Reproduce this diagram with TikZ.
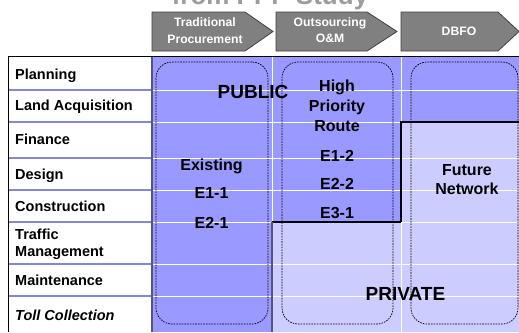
\documentclass[tikz,border=0pt]{standalone}
\usepackage{fontspec}
\setmainfont{Liberation Sans}
\definecolor{publicblue}{HTML}{9999FF}
\definecolor{privateblue}{HTML}{CCCCFF}
\definecolor{rowline}{HTML}{8585DD}
\definecolor{chevgray}{HTML}{808080}
\definecolor{titlegray}{HTML}{9C9C9C}
\definecolor{edgegray}{HTML}{55557A}

\begin{document}
\begin{tikzpicture}[x=1pt,y=-1pt,
  rowlabel/.style={anchor=base west, inner sep=0pt, font=\fontsize{14.5}{17}\selectfont\bfseries},
  celltext/.style={anchor=base, inner sep=0pt, font=\fontsize{16}{19}\selectfont\bfseries},
  sectortext/.style={anchor=base, inner sep=0pt, font=\fontsize{19}{22}\selectfont\bfseries},
  chevtext/.style={anchor=base, inner sep=0pt, text=white, font=\fontsize{12.2}{14}\selectfont\bfseries},
  chevron/.style={fill=chevgray, draw=black!75, line width=0.8pt},
  group/.style={draw=black, dash pattern=on 1.6pt off 1.1pt, line width=0.7pt,
                rounded corners=16pt, inner sep=0pt},
]
\useasboundingbox (0,0) rectangle (519,332);
\clip (0,0) rectangle (519,332);
\fill[white] (0,0) rectangle (519,332);

% title line, mostly above the page
\node[anchor=base, inner sep=0pt, text=titlegray,
      font=\fontsize{26}{30}\selectfont\bfseries] (title) at (270,4.5) {from PPP Study};

% procurement models
\draw[chevron] (152,12) -- (245,12) -- (273,31.5) -- (245,51) -- (152,51) -- cycle;
\draw[chevron] (276,12) -- (367,12) -- (397,31.5) -- (367,51) -- (276,51) -- cycle;
\draw[chevron] (401,12) -- (498,12) -- (519,31.5) -- (498,51) -- (401,51) -- cycle;
\node[chevtext] (trad1) at (205,26.7) {Traditional};
\node[chevtext] (trad2) at (205,43.3) {Procurement};
\node[chevtext] (outs1) at (330,26.7) {Outsourcing};
\node[chevtext] (outs2) at (330,42.3) {O\&M};
\node[chevtext] (dbfo)  at (459,35.7) {DBFO};

% public and private responsibility areas
\fill[publicblue] (152,56) rectangle (519,332);
\fill[privateblue] (272,222) -- (401,222) -- (401,122) -- (519,122)
                   -- (519,332) -- (272,332) -- cycle;
\foreach \y in {90,122,158,190,222,264,296}
  \draw[white, line width=1pt] (152,\y) -- (519,\y);
\draw[white, line width=1pt] (272,56) -- (272,332) (401,56) -- (401,332);
\draw[black, line width=1.1pt] (401,222) -- (401,122) -- (519,122);
\draw[black, line width=1.1pt] (272,222) -- (401,222);
\draw[edgegray, line width=1.6pt] (272,222) -- (272,332);

% activity column
\fill[white] (8,56) rectangle (152,332);
\foreach \y in {90,122,158,190,222,264,296}
  \draw[rowline, line width=1.3pt] (8,\y) -- (152,\y);
\draw[edgegray, line width=1.6pt] (152,56) -- (152,332);
\draw[black, line width=1pt] (8,332) -- (8,56) -- (519,56);

\node[rowlabel] (plan)  at (15,79.3)  {Planning};
\node[rowlabel] (land)  at (15,110.7) {Land Acquisition};
\node[rowlabel] (fin)   at (15,144.3) {Finance};
\node[rowlabel] (des)   at (15,179)   {Design};
\node[rowlabel] (cons)  at (15,211)   {Construction};
\node[rowlabel] (traf1) at (15,239)   {Traffic};
\node[rowlabel] (traf2) at (15,256.7) {Management};
\node[rowlabel] (maint) at (15,285)   {Maintenance};
\node[rowlabel, font=\fontsize{14.5}{17}\selectfont\bfseries\itshape] (toll) at (15,320) {Toll Collection};

% network groups
\node[group, minimum width=112pt, minimum height=262pt] (grpexist) at (212,193) {};
\node[group, minimum width=111pt, minimum height=262pt] (grphigh)  at (337.5,193) {};
\node[group, minimum width=107pt, minimum height=262pt] (grpfut)   at (464.5,193) {};

\node[celltext] (ex)  at (211.5,170)   {Existing};
\node[celltext] (e11) at (211.5,198.3) {E1-1};
\node[celltext] (e21) at (211.5,228.3) {E2-1};

\node[celltext] (hp1) at (337,91.7)  {High};
\node[celltext] (hp2) at (337,111.7) {Priority};
\node[celltext] (hp3) at (337,131)   {Route};
\node[celltext] (e12) at (337,161)   {E1-2};
\node[celltext] (e22) at (337,189.3) {E2-2};
\node[celltext] (e31) at (337,218.3) {E3-1};

\node[celltext] (fn1) at (467,175)   {Future};
\node[celltext] (fn2) at (467,194.3) {Network};

\node[sectortext] (public)  at (253,98.3) {PUBLIC};
\node[sectortext] (private) at (405.5,300) {PRIVATE};
\end{tikzpicture}
\end{document}
